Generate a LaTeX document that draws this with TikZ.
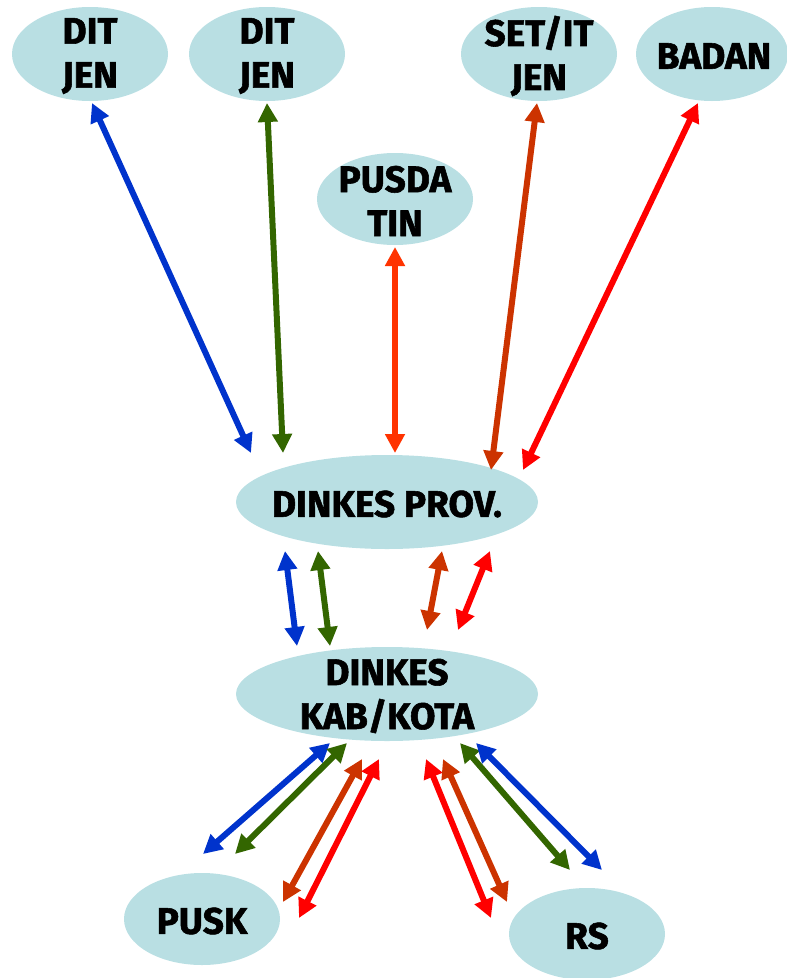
\documentclass[tikz,border=0pt]{standalone}
\usepackage{fontspec}
\setmainfont{Fira Sans}[BoldFeatures={FakeBold=1.5}]
\usetikzlibrary{arrows.meta}
\definecolor{ellfill}{HTML}{B9DFE3}
\definecolor{cblue}{HTML}{0033CC}
\definecolor{cgreen}{HTML}{336600}
\definecolor{corange}{HTML}{CC3300}
\definecolor{cpusda}{HTML}{FF3300}
\definecolor{cred}{HTML}{FF0000}
\tikzset{
  label/.style={inner sep=0pt, font=\fontsize{37}{44}\selectfont\bfseries, align=center, text=black},
  link/.style={line width=6pt, {Triangle[length=19pt,width=19pt]}-{Triangle[length=19pt,width=19pt]}},
}
\begin{document}
\begin{tikzpicture}[x=1pt,y=-1pt]
\useasboundingbox (0,0) rectangle (787,978);
% ellipses
\fill[ellfill] (90,54) ellipse [x radius=78, y radius=47];
\fill[ellfill] (267,54) ellipse [x radius=78, y radius=47];
\fill[ellfill] (539,54) ellipse [x radius=78, y radius=47];
\fill[ellfill] (712,54) ellipse [x radius=76, y radius=47];
\fill[ellfill] (395,199) ellipse [x radius=78, y radius=46];
\fill[ellfill] (387,502) ellipse [x radius=151, y radius=47];
\fill[ellfill] (387,694) ellipse [x radius=151, y radius=47];
\fill[ellfill] (202,919) ellipse [x radius=78, y radius=46];
\fill[ellfill] (587,934) ellipse [x radius=78, y radius=46];
% labels
\node[label] (d1) at (90,56) {DIT\\JEN};
\node[label] (d2) at (267,56) {DIT\\JEN};
\node[label] (set) at (539,56) {SET/IT\\JEN};
\node[label] (badan) at (714,56) {BADAN};
\node[label] (pusda) at (395,201) {PUSDA\\TIN};
\node[label] (prov) at (387,504) {DINKES PROV.};
\node[label] (kab) at (387,696) {DINKES\\KAB/KOTA};
\node[label] (pusk) at (202,921) {PUSK};
\node[label] (rs) at (587,936) {RS};
% endpoints
\coordinate (a1) at (92,103);  \coordinate (b1) at (251,453);
\coordinate (a2) at (267,103); \coordinate (b2) at (283,453);
\coordinate (a3) at (395,247); \coordinate (b3) at (395,453);
\coordinate (a4) at (537,103); \coordinate (b4) at (491,470);
\coordinate (a5) at (698,103); \coordinate (b5) at (523,470);
\coordinate (m1t) at (285,551); \coordinate (m1b) at (297,646);
\coordinate (m2t) at (318,551); \coordinate (m2b) at (330,646);
\coordinate (m3t) at (442,551); \coordinate (m3b) at (427,630);
\coordinate (m4t) at (490,551); \coordinate (m4b) at (458,630);
\coordinate (l1t) at (330,743); \coordinate (l1b) at (203,854);
\coordinate (l2t) at (347,743); \coordinate (l2b) at (235,854);
\coordinate (l3t) at (362,759); \coordinate (l3b) at (283,902);
\coordinate (l4t) at (379,759); \coordinate (l4b) at (299,918);
\coordinate (r1t) at (426,759); \coordinate (r1b) at (491,918);
\coordinate (r2t) at (443,759); \coordinate (r2b) at (507,902);
\coordinate (r3t) at (460,743); \coordinate (r3b) at (570,870);
\coordinate (r4t) at (476,743); \coordinate (r4b) at (602,870);
% top links
\draw[link, cblue] (a1) -- (b1);
\draw[link, cgreen] (a2) -- (b2);
\draw[link, cpusda] (a3) -- (b3);
\draw[link, corange] (a4) -- (b4);
\draw[link, cred] (a5) -- (b5);
% middle links
\draw[link, cblue] (m1t) -- (m1b);
\draw[link, cgreen] (m2t) -- (m2b);
\draw[link, corange] (m3t) -- (m3b);
\draw[link, cred] (m4t) -- (m4b);
% bottom links
\draw[link, cblue] (l1t) -- (l1b);
\draw[link, cgreen] (l2t) -- (l2b);
\draw[link, corange] (l3t) -- (l3b);
\draw[link, cred] (l4t) -- (l4b);
\draw[link, cred] (r1t) -- (r1b);
\draw[link, corange] (r2t) -- (r2b);
\draw[link, cgreen] (r3t) -- (r3b);
\draw[link, cblue] (r4t) -- (r4b);
\end{tikzpicture}
\end{document}
